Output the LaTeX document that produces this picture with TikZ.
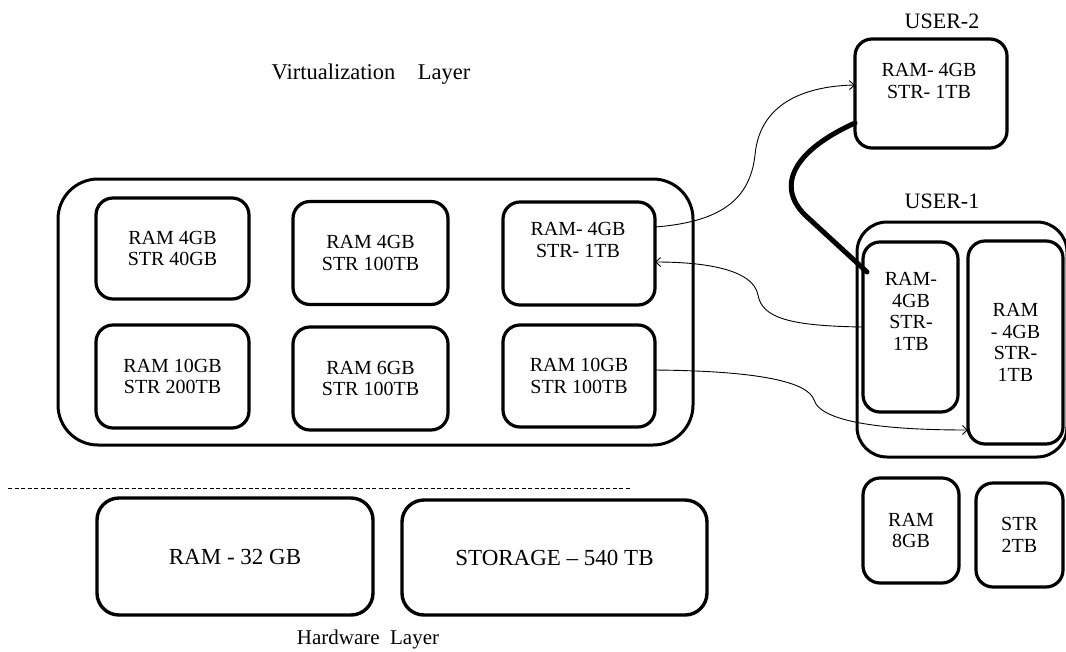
\documentclass[tikz,border=0pt]{standalone}
\usepackage{fontspec}
\setmainfont{Liberation Serif}
\usetikzlibrary{arrows.meta}
\tikzset{
  box/.style={draw, line width=3.2pt, rounded corners=17pt, inner sep=0pt, outer sep=0pt, align=center,
    font=\fontsize{20}{21.5}\selectfont},
  bigbox/.style={draw, line width=3pt, rounded corners=40pt, inner sep=0pt, outer sep=0pt},
  hwbox/.style={draw, line width=3.4pt, rounded corners=22pt, inner sep=0pt, outer sep=0pt,
    font=\fontsize{23}{26}\selectfont},
  btxt/.style={inner sep=0pt, align=center, font=\fontsize{20}{21.5}\selectfont},
  lbl/.style={inner sep=0pt, font=\fontsize{22}{24}\selectfont},
  conn/.style={line width=0.9pt, -{Straight Barb[length=5pt,width=9pt,line width=0.9pt]}},
  thickconn/.style={line width=5pt, line cap=round},
}
\begin{document}
\begin{tikzpicture}[x=1pt,y=-1pt]
\useasboundingbox (0,0) rectangle (1066,651);

% labels
\node[lbl, anchor=base, font=\fontsize{22.5}{24}\selectfont] (vl) at (371,79) {Virtualization\ \ \ \ Layer};
\node[lbl, anchor=base, font=\fontsize{21}{24}\selectfont] (hl) at (368,644) {Hardware\ \ Layer};
\node[lbl, anchor=base] (u2l) at (942,28) {USER-2};
\node[lbl, anchor=base] (u1l) at (942,208) {USER-1};

% virtualization layer
\node[bigbox, minimum width=635, minimum height=266] (vc) at (375.5,312) {};
\node[box, minimum width=153, minimum height=101] (b1) at (172.5,248.5) {RAM 4GB\\STR 40GB};
\node[box, minimum width=155, minimum height=103] (b2) at (370.5,253) {RAM 4GB\\STR 100TB};
\node[box, minimum width=152, minimum height=103] (b3) at (579,253.5) {};
\node[btxt] (b3t) at (578,240) {RAM- 4GB\\STR- 1TB};
\node[box, minimum width=153, minimum height=103] (b4) at (172.5,376.5) {RAM 10GB\\STR 200TB};
\node[box, minimum width=155, minimum height=103] (b5) at (370.5,378.5) {RAM 6GB\\STR 100TB};
\node[box, minimum width=152, minimum height=102] (b6) at (579,376) {RAM 10GB\\STR 100TB};

% separator
\coordinate (dl1) at (8,488);
\coordinate (dl2) at (630,488);
\draw[line width=1pt, dash pattern=on 4pt off 2.5pt] (dl1) -- (dl2);

% hardware layer
\node[hwbox, minimum width=276, minimum height=117] (hram) at (235,556.5) {RAM - 32 GB};
\node[hwbox, minimum width=305, minimum height=115] (hsto) at (554.5,557.5) {STORAGE -- 540 TB};

% user 2
\node[box, minimum width=152, minimum height=109] (u2) at (931,93.5) {};
\node[btxt] (u2t) at (929,81) {RAM- 4GB\\STR- 1TB};

% user 1
\node[bigbox, rounded corners=30pt, minimum width=210, minimum height=235] (u1) at (962,339.5) {};
\node[box, minimum width=95, minimum height=170] (ia) at (910.5,327) {};
\node[btxt] (iat) at (911,311.5) {RAM-\\4GB\\STR-\\1TB};
\node[box, minimum width=95, minimum height=203] (ib) at (1015.5,342.5) {RAM\\- 4GB\\STR-\\1TB};

% free resources
\node[box, minimum width=96, minimum height=105] (r8) at (911,530.5) {RAM\\8GB};
\node[box, minimum width=87, minimum height=104] (s2) at (1019.5,535) {STR\\2TB};

% connectors
\draw[conn] ([yshift=26.5pt]b3.east) .. controls (720,222) and (750,200) .. (755,155)
  .. controls (760,100) and (810,86) .. ([yshift=8.5pt]u2.west);
\draw[thickconn] ([yshift=-29.5pt]u2.west) .. controls (795,150) and (775,185) .. (805,215)
  -- ([xshift=4pt,yshift=-30pt]ia.north west);
\draw[conn] (ia.west) .. controls (790,326) and (762,318) .. (758,295)
  .. controls (753,268) and (700,262) .. ([yshift=-8.5pt]b3.east);
\draw[conn] ([yshift=6pt]b6.east) .. controls (760,371) and (808,382) .. (814,400)
  .. controls (822,425) and (900,430) .. ([yshift=-87.5pt]ib.west);
\end{tikzpicture}
\end{document}
